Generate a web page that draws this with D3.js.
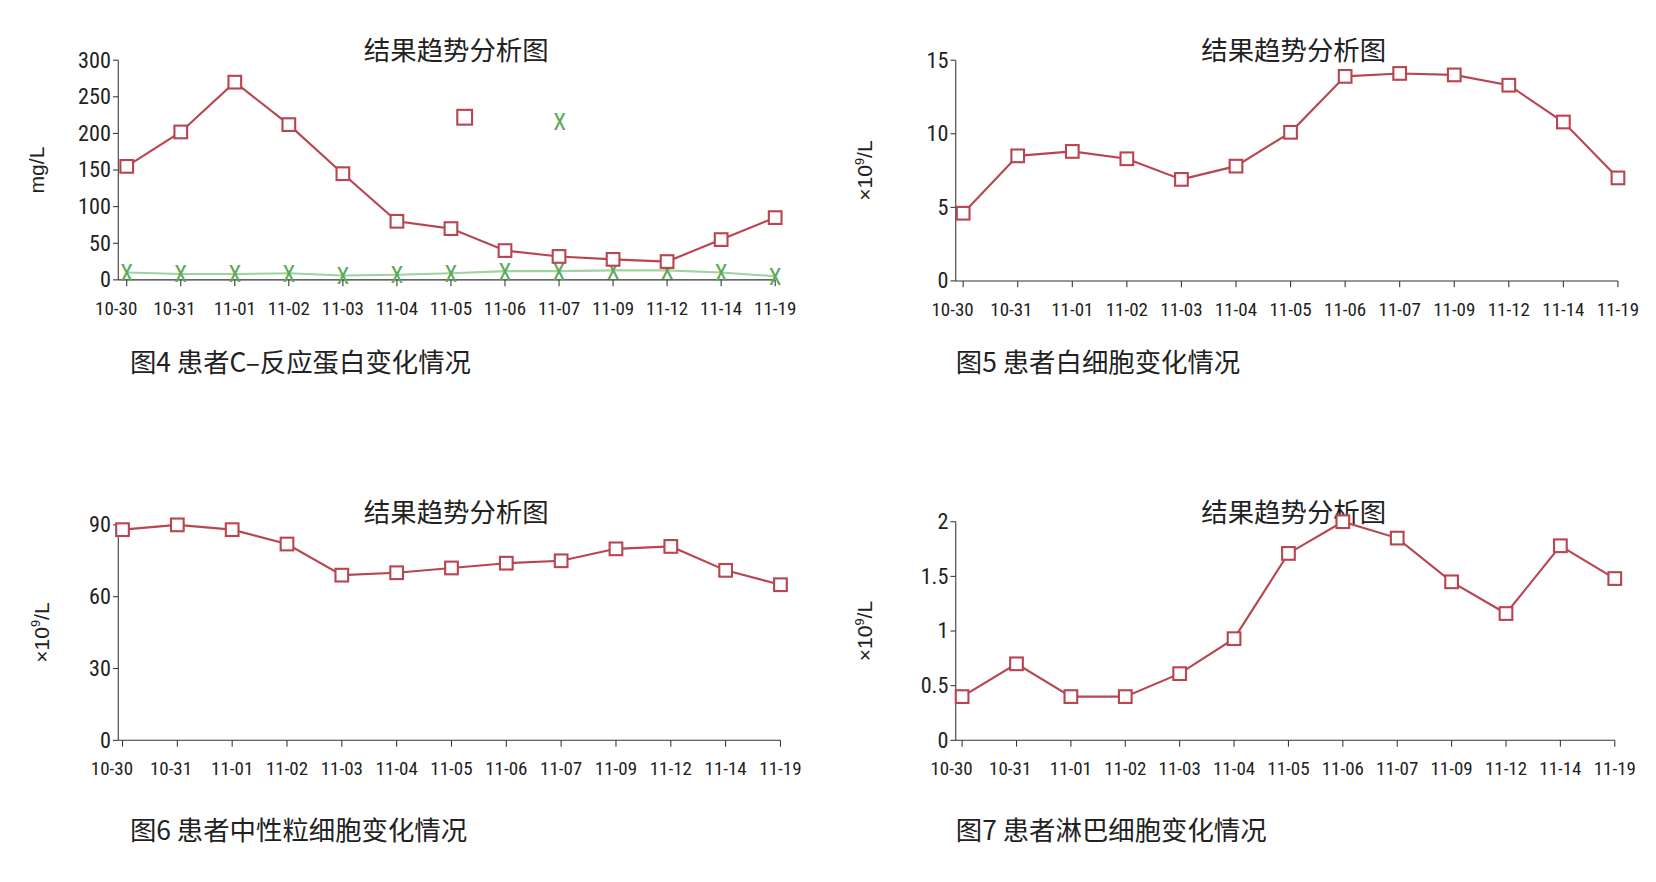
<!DOCTYPE html>
<html><head><meta charset="utf-8">
<script src="https://cdn.jsdelivr.net/npm/d3@7"></script>
<style>body{margin:0;background:#fff}</style></head><body>
<svg id="c" width="1656" height="882"></svg>
<script>
const dates = ["10-30","10-31","11-01","11-02","11-03","11-04","11-05","11-06","11-07","11-09","11-12","11-14","11-19"];
const crp = [155,202,270,212,145,80,70,40,32,28,25,55,85];
const crpGreen = [10,8,8,9,6,7,9,12,12,13,13,10,5];
const wbc = [4.6,8.5,8.8,8.3,6.9,7.8,10.1,13.9,14.1,14.0,13.3,10.8,7.0];
const neut = [88,90,88,82,69,70,72,74,75,80,81,71,65];
const lymph = [0.4,0.7,0.4,0.4,0.61,0.93,1.71,2.0,1.85,1.45,1.16,1.78,1.48];
const ticks1 = [0,50,100,150,200,250,300];
const ticks2 = [0,5,10,15];
const ticks3 = [0,30,60,90];
const ticks4 = [0,0.5,1,1.5,2];

const svg = d3.select("#c").append("g").attr("transform","scale(1.0561)");
const RED="#b8454f", GREEN="#5aaa5a";
const narrow = "'Liberation Sans Narrow','Arial Narrow','Roboto Condensed',sans-serif";
const cjk = "'Noto Sans CJK SC',sans-serif";

function panel(o){
  const g = svg.append("g");
  const x = d3.scalePoint().domain(dates).range([o.x0,o.x1]);
  const y = d3.scaleLinear().domain([0,o.max]).range([o.yb,o.yt]);
  g.append("line").attr("x1",o.ax).attr("x2",o.ax).attr("y1",o.yb).attr("y2",o.yt).attr("stroke","#333");
  o.ticks.forEach(t=>{
    g.append("line").attr("x1",o.ax-5).attr("x2",o.ax).attr("y1",y(t)).attr("y2",y(t)).attr("stroke","#333");
    g.append("text").attr("x",o.ax-7).attr("y",y(t)+7).attr("text-anchor","end")
     .style("font-family",narrow).style("font-size","21px").attr("fill","#222").text(t);
  });
  g.append("line").attr("x1",o.ax).attr("x2",o.x1).attr("y1",o.yb).attr("y2",o.yb).attr("stroke","#333");
  dates.forEach((d,i)=>{
    g.append("line").attr("x1",x(d)).attr("x2",x(d)).attr("y1",o.yb).attr("y2",o.yb+6).attr("stroke","#333");
    g.append("text").attr("x",x(d)-(i==0?10:(i==1?6:0))).attr("y",o.yb+33).attr("text-anchor","middle")
     .style("font-family",narrow).style("font-size","18px").attr("fill","#222").text(d);
  });
  const yl = g.append("text").attr("transform",`translate(${o.lx},${(o.yb+o.yt)/2}) rotate(-90)`)
    .attr("text-anchor","middle").style("font-family","'Liberation Sans',Arial,sans-serif").style("font-size","20px").attr("fill","#222");
  if(o.unit==="mg") yl.text("mg/L");
  else { yl.append("tspan").text("×10"); yl.append("tspan").attr("dy",-8).style("font-size","12px").text("9"); yl.append("tspan").attr("dy",8).text("/L"); }
  g.append("text").attr("x",o.tx).attr("y",o.ty).attr("text-anchor","middle")
   .style("font-family",cjk).style("font-size","25px").attr("fill","#222").text("结果趋势分析图");
  g.append("text").attr("x",o.cx).attr("y",o.cy).style("font-family",cjk).style("font-size","25px").attr("fill","#222").text(o.cap);
  const line = d3.line().x((d,i)=>x(dates[i])).y(d=>y(d));
  if(o.green){
    g.append("path").attr("d",line(o.green)).attr("fill","none").attr("stroke","#9fd39f").attr("stroke-width",2);
    o.green.forEach((v,i)=>xmark(g,x(dates[i]),y(v)));
  }
  g.append("path").attr("d",line(o.data)).attr("fill","none").attr("stroke",RED).attr("stroke-width",2);
  o.data.forEach((v,i)=>sq(g,x(dates[i]),y(v)));
  return {g,x,y};
}
function sq(g,cx,cy){g.append("rect").attr("x",cx-6).attr("y",cy-6).attr("width",12).attr("height",12).attr("fill","#fff").attr("stroke",RED).attr("stroke-width",2);}
function xmark(g,cx,cy){g.append("text").attr("x",cx).attr("y",cy+8).attr("text-anchor","middle").style("font-family",narrow).style("font-size","22px").attr("fill",GREEN).text("X");}

const p1 = panel({x0:120,x1:734,ax:112,yb:265,yt:57,max:300,ticks:ticks1,unit:"mg",lx:42,tx:432,ty:57,cx:123,cy:352,cap:"图4 患者C–反应蛋白变化情况",data:crp,green:crpGreen});
p1.g.append("rect").attr("x",433).attr("y",104).attr("width",14).attr("height",14).attr("fill","#fff").attr("stroke",RED).attr("stroke-width",2);
xmark(p1.g,530,115);
panel({x0:912,x1:1532,ax:905,yb:266,yt:57,max:15,ticks:ticks2,unit:"e9",lx:826,tx:1225,ty:57,cx:905,cy:352,cap:"图5 患者白细胞变化情况",data:wbc});
panel({x0:116,x1:739,ax:112,yb:701,yt:497,max:90,ticks:ticks3,unit:"e9",lx:46,tx:432,ty:494,cx:123,cy:795,cap:"图6 患者中性粒细胞变化情况",data:neut});
panel({x0:911,x1:1529,ax:905,yb:701,yt:494,max:2,ticks:ticks4,unit:"e9",lx:826,tx:1225,ty:494,cx:905,cy:795,cap:"图7 患者淋巴细胞变化情况",data:lymph});
</script></body></html>
